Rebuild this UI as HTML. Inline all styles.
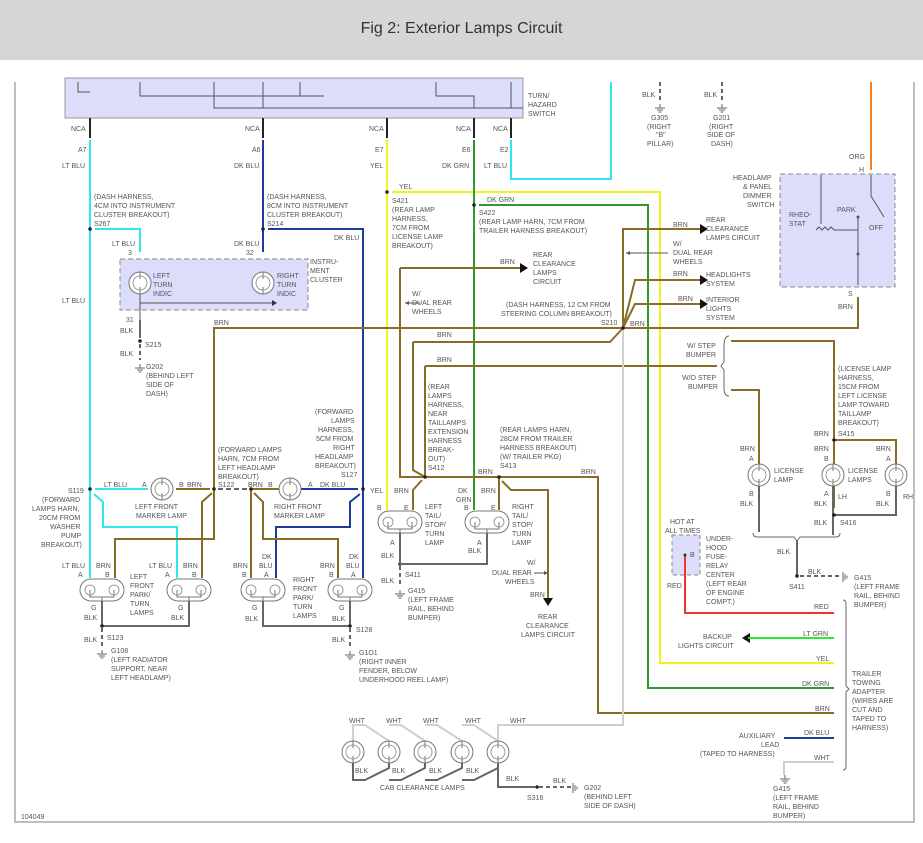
<!DOCTYPE html>
<html><head><meta charset="utf-8"><style>
html,body{margin:0;padding:0;background:#fff;}
body{width:923px;height:843px;overflow:hidden;}
.hdr{position:absolute;left:0;top:0;width:923px;height:60px;background:#d6d6d6;}
.hdr div{text-align:center;font:16px "Liberation Sans",sans-serif;color:#333;line-height:58px;}
svg{position:absolute;left:0;top:0;}
text{font-family:"Liberation Sans",sans-serif;font-size:7px;fill:#555;}
.w{fill:none;stroke-width:2;}
.k{stroke:#666;} .c{stroke:#2ee8ee;} .b{stroke:#1c3c9c;} .y{stroke:#f3f31c;} .g{stroke:#2e9a2e;} .n{stroke:#8a6d25;} .r{stroke:#f03434;} .lg{stroke:#33e433;} .o{stroke:#f08020;} .wh{stroke:#cfcfcf;}
.d{stroke-dasharray:4,3;}
.lamp{fill:#fff;stroke:#777;stroke-width:1;}
</style></head><body>
<div class="hdr"><div>Fig 2: Exterior Lamps Circuit</div></div>
<svg width="923" height="843" viewBox="0 0 923 843">
<defs>
<g id="gnd"><line x1="0" y1="0" x2="0" y2="4" stroke="#666" stroke-width="1"/><line x1="-5" y1="4" x2="5" y2="4" stroke="#666"/><line x1="-3" y1="6" x2="3" y2="6" stroke="#666"/><line x1="-1.5" y1="8" x2="1.5" y2="8" stroke="#666"/></g>
<g id="gndh"><line x1="0" y1="-5" x2="0" y2="5" stroke="#666"/><line x1="2" y1="-3" x2="2" y2="3" stroke="#666"/><line x1="4" y1="-1.5" x2="4" y2="1.5" stroke="#666"/></g>
<g id="bulb"><circle r="11" class="lamp"/><circle r="7" fill="none" stroke="#888" stroke-width="0.8"/><path d="M0,-11 V-4 M0,4 V11" stroke="#777"/></g>
<g id="dbl"><rect x="-22" y="-11" width="44" height="22" rx="11" class="lamp"/><circle cx="-12" cy="0" r="5" fill="none" stroke="#888" stroke-width="0.8"/><circle cx="12" cy="0" r="5" fill="none" stroke="#888" stroke-width="0.8"/><path d="M-12,0 V7 H12 V0 M0,7 V11" stroke="#777" fill="none"/></g>
</defs>
<!-- frame -->
<path d="M15,82 V822 H914 V82" fill="none" stroke="#aaa" stroke-width="1.5"/>
<!-- turn/hazard switch -->
<rect x="65" y="78" width="458" height="40" fill="#dcdcfb" stroke="#999"/>
<path d="M78,82 V92 H90 M140,82 V96 H324 M214,82 V108 H523 M300,82 V96 M263,82 V108 M436,82 V96 H474 V108 M511,82 V108" fill="none" stroke="#555" stroke-width="1"/>
<text x="528" y="98">TURN/</text><text x="528" y="107">HAZARD</text><text x="528" y="116">SWITCH</text>
<!-- NCA pins -->
<g stroke="#222" stroke-width="2"><line x1="90" y1="118" x2="90" y2="138"/><line x1="263" y1="118" x2="263" y2="138"/><line x1="387" y1="118" x2="387" y2="138"/><line x1="474" y1="118" x2="474" y2="138"/><line x1="511" y1="118" x2="511" y2="138"/></g>
<text x="71" y="131">NCA</text><text x="245" y="131">NCA</text><text x="369" y="131">NCA</text><text x="456" y="131">NCA</text><text x="493" y="131">NCA</text>
<text x="78" y="152">A7</text><text x="252" y="152">A6</text><text x="375" y="152">E7</text><text x="462" y="152">E6</text><text x="500" y="152">E2</text>
<text x="62" y="168">LT BLU</text><text x="234" y="168">DK BLU</text><text x="370" y="168">YEL</text><text x="442" y="168">DK GRN</text><text x="484" y="168">LT BLU</text>
<!-- cyan -->
<path class="w c" d="M90,140 V578"/><path class="w c" d="M95,229 H140 V252"/><path class="w c" d="M511,140 V179 H611 V82"/>
<path class="w c" d="M95,489 H148"/><path class="w c" d="M94,494 L103,502 V527 H177 V578"/>
<!-- dk blu -->
<path class="w b" d="M263,140 V252"/><path class="w b" d="M268,229 H363 V578"/>
<path class="w b" d="M300,489 H358"/><path class="w b" d="M360,494 L350,502 V527 H276 V578"/>
<!-- yel -->
<path class="w y" d="M387,140 V510"/><path class="w y" d="M392,192 H660 V663 H834"/>
<!-- dk grn -->
<path class="w g" d="M474,140 V510"/><path class="w g" d="M479,205 H648 V688 H834"/>
<!-- orange -->
<path class="w o" d="M871,82 V170"/>
<!-- brn -->
<path class="w n" d="M214,489 V328 H858 V297"/>
<path class="w n" d="M176,489 H210"/><path class="w n" d="M212,493 L202,502 V578"/><path class="w n" d="M214,489 V539 H115 V578"/>
<path class="w k" d="M218,489 H249" stroke="#ccc" stroke-dasharray="5,3"/>
<path class="w n" d="M251,489 H280"/><path class="w n" d="M251,489 V578"/><path class="w n" d="M254,493 L263,502 V539 H338 V578"/>
<path class="w n" d="M400,268 H520"/><path class="w n" d="M400,268 V477 H499"/><path class="w n" d="M413,342 V470 L425,477"/><path class="w n" d="M413,342 H610 L623,328"/>
<path class="w n" d="M425,366 V477"/><path class="w n" d="M425,366 H717"/>
<path class="w n" d="M422,480 L413,490 V510"/>
<path class="w n" d="M499,477 V510"/><path class="w n" d="M499,477 H598 V713 H834"/><path class="w n" d="M502,481 L511,490 H548 V598"/>
<path class="w n" d="M623,328 V229 H700"/><path class="w n" d="M623,328 L635,280 H700"/><path class="w n" d="M623,328 L635,304 H700"/>
<path class="w n" d="M731,341 H834 V508"/><path class="w n" d="M731,390 H759 V464"/><path class="w n" d="M834,440 H896 V464"/>
<!-- wht -->
<path class="w wh" d="M623,330 V725 H498 V741"/>
<!-- arrows -->
<g fill="#111"><path d="M520,263 l8,5 -8,5z"/><path d="M700,224 l8,5 -8,5z"/><path d="M700,275 l8,5 -8,5z"/><path d="M700,299 l8,5 -8,5z"/><path d="M543,598 l5,8 5,-8z"/><path d="M750,633 l-8,5 8,5z"/></g>
<path d="M405,303 H420 M626,253 H668" stroke="#555" stroke-width="1"/><path d="M405,303 l4,-2 v4z M626,253 l4,-2 v4z M548,573 l-4,-2 v4z" fill="#555"/><path d="M534,573 H548" stroke="#555"/>
<!-- instrument cluster -->
<rect x="120" y="259" width="188" height="51" fill="#dcdcfb" stroke="#888" stroke-dasharray="5,3"/>
<use href="#bulb" x="140" y="283"/><use href="#bulb" x="263" y="283"/>
<path d="M140,294 V320 M140,303 H272" stroke="#555" fill="none"/><path d="M272,300 l5,3 -5,3z" fill="#333"/>
<path class="w k" d="M140,320 V338"/><path class="w k d" d="M140,344 V360" stroke-width="1.5"/><use href="#gnd" x="140" y="364"/>
<text x="153" y="278">LEFT</text><text x="153" y="287">TURN</text><text x="153" y="296">INDIC</text>
<text x="277" y="278">RIGHT</text><text x="277" y="287">TURN</text><text x="277" y="296">INDIC</text>
<text x="310" y="264">INSTRU-</text><text x="310" y="273">MENT</text><text x="310" y="282">CLUSTER</text>
<text x="112" y="246">LT BLU</text><text x="128" y="255">3</text><text x="234" y="246">DK BLU</text><text x="246" y="255">32</text>
<text x="126" y="322">31</text><text x="120" y="333">BLK</text><text x="120" y="356">BLK</text><text x="145" y="347">S215</text>
<text x="146" y="369">G202</text><text x="146" y="378">(BEHIND LEFT</text><text x="146" y="387">SIDE OF</text><text x="146" y="396">DASH)</text>
<text x="62" y="303">LT BLU</text>
<text x="94" y="199">(DASH HARNESS,</text><text x="94" y="208">4CM INTO INSTRUMENT</text><text x="94" y="217">CLUSTER BREAKOUT)</text><text x="94" y="226">S267</text>
<text x="267" y="199">(DASH HARNESS,</text><text x="267" y="208">8CM INTO INSTRUMENT</text><text x="267" y="217">CLUSTER BREAKOUT)</text><text x="267" y="226">S214</text>
<text x="334" y="240">DK BLU</text>
<text x="399" y="189">YEL</text><text x="392" y="203">S421</text><text x="392" y="212">(REAR LAMP</text><text x="392" y="221">HARNESS,</text><text x="392" y="230">7CM FROM</text><text x="392" y="239">LICENSE LAMP</text><text x="392" y="248">BREAKOUT)</text>
<text x="487" y="202">DK GRN</text><text x="479" y="215">S422</text><text x="479" y="224">(REAR LAMP HARN, 7CM FROM</text><text x="479" y="233">TRAILER HARNESS BREAKOUT)</text>
<text x="500" y="264">BRN</text><text x="533" y="257">REAR</text><text x="533" y="266">CLEARANCE</text><text x="533" y="275">LAMPS</text><text x="533" y="284">CIRCUIT</text>
<text x="412" y="296">W/</text><text x="412" y="305">DUAL REAR</text><text x="412" y="314">WHEELS</text>
<text x="214" y="325">BRN</text><text x="437" y="337">BRN</text><text x="437" y="362">BRN</text>
<text x="673" y="227">BRN</text><text x="706" y="222">REAR</text><text x="706" y="231">CLEARANCE</text><text x="706" y="240">LAMPS CIRCUIT</text>
<text x="673" y="246">W/</text><text x="673" y="255">DUAL REAR</text><text x="673" y="264">WHEELS</text>
<text x="673" y="276">BRN</text><text x="706" y="277">HEADLIGHTS</text><text x="706" y="286">SYSTEM</text>
<text x="678" y="301">BRN</text><text x="706" y="302">INTERIOR</text><text x="706" y="311">LIGHTS</text><text x="706" y="320">SYSTEM</text>
<text x="506" y="307">(DASH HARNESS, 12 CM FROM</text><text x="501" y="316">STEERING COLUMN BREAKOUT)</text><text x="601" y="325">S210</text><text x="630" y="326">BRN</text>
<!-- top grounds -->
<path class="w k d" d="M660,82 V100 M722,82 V100" stroke-width="1.5"/><use href="#gnd" x="660" y="104"/><use href="#gnd" x="722" y="104"/>
<text x="642" y="97">BLK</text><text x="704" y="97">BLK</text>
<text x="651" y="120">G305</text><text x="647" y="129">(RIGHT</text><text x="656" y="137">"B"</text><text x="647" y="146">PILLAR)</text>
<text x="713" y="120">G201</text><text x="709" y="129">(RIGHT</text><text x="707" y="137">SIDE OF</text><text x="711" y="146">DASH)</text>
<!-- dimmer -->
<rect x="780" y="174" width="115" height="113" fill="#dcdcfb" stroke="#888" stroke-dasharray="5,3"/>
<path d="M821,175 V224 M816,230 l3,-3 3,3 3,-3 3,3 3,-3 3,3 H858 M858,217 V285 M871,175 V196 L884,217" fill="none" stroke="#555" stroke-width="1"/>
<circle cx="858" cy="217" r="1.5" fill="#555"/><circle cx="858" cy="254" r="1.5" fill="#555"/>
<text x="849" y="159">ORG</text><text x="859" y="172">H</text>
<text x="733" y="180">HEADLAMP</text><text x="743" y="189">&amp; PANEL</text><text x="743" y="198">DIMMER</text><text x="747" y="207">SWITCH</text>
<text x="789" y="217">RHEO-</text><text x="789" y="226">STAT</text><text x="837" y="212">PARK</text><text x="869" y="230">OFF</text>
<text x="848" y="296">S</text><text x="838" y="309">BRN</text>
<!-- step bumper bracket -->
<path d="M729,336 Q724,336 724,346 V362 L721,366 L724,370 V388 Q724,396 729,396" fill="none" stroke="#666"/>
<text x="687" y="348">W/ STEP</text><text x="686" y="357">BUMPER</text><text x="682" y="380">W/O STEP</text><text x="688" y="389">BUMPER</text>
<text x="838" y="371">(LICENSE LAMP</text><text x="838" y="380">HARNESS,</text><text x="838" y="389">15CM FROM</text><text x="838" y="398">LEFT LICENSE</text><text x="838" y="407">LAMP TOWARD</text><text x="838" y="416">TAILLAMP</text><text x="838" y="425">BREAKOUT)</text>
<text x="814" y="436">BRN</text><text x="838" y="436">S415</text><text x="740" y="451">BRN</text><text x="814" y="451">BRN</text><text x="876" y="451">BRN</text>
<text x="749" y="461">A</text><text x="824" y="461">B</text><text x="886" y="461">A</text>
<use href="#bulb" x="759" y="475"/><use href="#bulb" x="833" y="475"/><use href="#bulb" x="896" y="475"/>
<text x="774" y="473">LICENSE</text><text x="774" y="482">LAMP</text><text x="848" y="473">LICENSE</text><text x="848" y="482">LAMPS</text>
<text x="749" y="496">B</text><text x="824" y="496">A</text><text x="838" y="499">LH</text><text x="886" y="496">B</text><text x="903" y="499">RH</text>
<text x="740" y="506">BLK</text><text x="814" y="506">BLK</text><text x="876" y="506">BLK</text>
<path class="w k" d="M759,486 V532 M833,486 V535 M896,486 V515 H834"/>
<path d="M753,533 Q753,537 757,537 H794 L797,541 L800,537 H836 Q840,537 840,533" fill="none" stroke="#666"/>
<path class="w k" d="M797,541 V576"/><path class="w k d" d="M800,576 H840" stroke-width="1.5"/><use href="#gndh" x="843" y="577"/>
<text x="814" y="525">BLK</text><text x="840" y="525">S416</text><text x="777" y="554">BLK</text><text x="808" y="574">BLK</text><text x="789" y="589">S411</text>
<text x="854" y="580">G415</text><text x="854" y="589">(LEFT FRAME</text><text x="854" y="598">RAIL, BEHIND</text><text x="854" y="607">BUMPER)</text>
<!-- fuse relay -->
<rect x="672" y="535" width="28" height="40" fill="#dcdcfb" stroke="#888" stroke-dasharray="4,3"/>
<path class="w r" d="M685,555 V613 H834"/><circle cx="685" cy="555" r="1.5" fill="#333"/><text x="690" y="557">B</text>
<text x="670" y="524">HOT AT</text><text x="665" y="533">ALL TIMES</text><text x="667" y="588">RED</text>
<text x="706" y="541">UNDER-</text><text x="706" y="550">HOOD</text><text x="706" y="559">FUSE-</text><text x="706" y="568">RELAY</text><text x="706" y="577">CENTER</text><text x="706" y="586">(LEFT REAR</text><text x="706" y="595">OF ENGINE</text><text x="706" y="604">COMPT.)</text>
<text x="814" y="609">RED</text>
<path class="w lg" d="M748,638 H834"/><text x="803" y="636">LT GRN</text><text x="703" y="639">BACKUP</text><text x="678" y="648">LIGHTS CIRCUIT</text>
<text x="816" y="661">YEL</text><text x="802" y="686">DK GRN</text><text x="815" y="711">BRN</text>
<path class="w b" d="M784,738 H834"/><text x="804" y="735">DK BLU</text><text x="739" y="738">AUXILIARY</text><text x="761" y="747">LEAD</text><text x="700" y="756">(TAPED TO HARNESS)</text>
<path class="w wh" d="M784,775 V762 H834"/><text x="814" y="760">WHT</text><use href="#gnd" x="785" y="775"/>
<text x="773" y="791">G415</text><text x="773" y="800">(LEFT FRAME</text><text x="773" y="809">RAIL, BEHIND</text><text x="773" y="818">BUMPER)</text>
<path d="M843,600 Q846,600 846,604 V686 L849,689 L846,692 V766 Q846,770 843,770" fill="none" stroke="#666"/>
<text x="852" y="676">TRAILER</text><text x="852" y="685">TOWING</text><text x="852" y="694">ADAPTER</text><text x="852" y="703">(WIRES ARE</text><text x="852" y="712">CUT AND</text><text x="852" y="721">TAPED TO</text><text x="852" y="730">HARNESS)</text>
<!-- front lamps -->
<use href="#bulb" x="162" y="489"/><use href="#bulb" x="290" y="489"/>
<use href="#dbl" x="102" y="590"/><use href="#dbl" x="189" y="590"/><use href="#dbl" x="263" y="590"/><use href="#dbl" x="350" y="590"/>
<path class="w k" d="M102,601 V626 M189,601 V626 H102 M263,601 V626 H350 M350,601 V626"/>
<path class="w k d" d="M102,628 V646 M350,628 V646" stroke-width="1.5"/><use href="#gnd" x="102" y="650"/><use href="#gnd" x="350" y="651"/>
<circle cx="102" cy="626" r="1.8" fill="#222"/><circle cx="350" cy="626" r="1.8" fill="#222"/>
<g fill="#222"><circle cx="90" cy="229" r="1.8"/><circle cx="263" cy="229" r="1.8"/><circle cx="387" cy="192" r="1.8"/><circle cx="474" cy="205" r="1.8"/><circle cx="90" cy="489" r="1.8"/><circle cx="214" cy="489" r="1.8"/><circle cx="251" cy="489" r="1.8"/><circle cx="363" cy="489" r="1.8"/><circle cx="425" cy="477" r="1.8"/><circle cx="499" cy="477" r="1.8"/><circle cx="623" cy="328" r="1.8"/><circle cx="140" cy="341" r="1.8"/><circle cx="400" cy="564" r="1.8"/><circle cx="834" cy="440" r="1.8"/><circle cx="834" cy="515" r="1.8"/><circle cx="797" cy="576" r="1.8"/><circle cx="537" cy="787" r="1.8"/></g>
<text x="104" y="487">LT BLU</text><text x="142" y="487">A</text><text x="179" y="487">B</text><text x="187" y="487">BRN</text>
<text x="135" y="509">LEFT FRONT</text><text x="136" y="518">MARKER LAMP</text>
<text x="68" y="493">S119</text><text x="42" y="502">(FORWARD</text><text x="32" y="511">LAMPS HARN,</text><text x="39" y="520">20CM FROM</text><text x="50" y="529">WASHER</text><text x="61" y="538">PUMP</text><text x="41" y="547">BREAKOUT)</text>
<text x="218" y="452">(FORWARD LAMPS</text><text x="218" y="461">HARN, 7CM FROM</text><text x="218" y="470">LEFT HEADLAMP</text><text x="218" y="479">BREAKOUT)</text><text x="218" y="487">S122</text>
<text x="315" y="414">(FORWARD</text><text x="331" y="423">LAMPS</text><text x="318" y="432">HARNESS,</text><text x="316" y="441">5CM FROM</text><text x="333" y="450">RIGHT</text><text x="315" y="459">HEADLAMP</text><text x="315" y="468">BREAKOUT)</text><text x="341" y="477">S127</text>
<text x="248" y="487">BRN</text><text x="268" y="487">B</text><text x="308" y="487">A</text><text x="320" y="487">DK BLU</text><text x="370" y="493">YEL</text>
<text x="274" y="509">RIGHT FRONT</text><text x="274" y="518">MARKER LAMP</text>
<text x="62" y="568">LT BLU</text><text x="96" y="568">BRN</text><text x="149" y="568">LT BLU</text><text x="183" y="568">BRN</text>
<text x="233" y="568">BRN</text><text x="262" y="559">DK</text><text x="259" y="568">BLU</text><text x="320" y="568">BRN</text><text x="349" y="559">DK</text><text x="346" y="568">BLU</text>
<text x="78" y="577">A</text><text x="105" y="577">B</text><text x="165" y="577">A</text><text x="192" y="577">B</text><text x="242" y="577">B</text><text x="264" y="577">A</text><text x="329" y="577">B</text><text x="351" y="577">A</text>
<text x="130" y="579">LEFT</text><text x="130" y="588">FRONT</text><text x="130" y="597">PARK/</text><text x="130" y="606">TURN</text><text x="130" y="615">LAMPS</text>
<text x="293" y="582">RIGHT</text><text x="293" y="591">FRONT</text><text x="293" y="600">PARK/</text><text x="293" y="609">TURN</text><text x="293" y="618">LAMPS</text>
<text x="91" y="610">G</text><text x="84" y="620">BLK</text><text x="178" y="610">G</text><text x="171" y="620">BLK</text><text x="252" y="610">G</text><text x="245" y="621">BLK</text><text x="339" y="610">G</text><text x="332" y="621">BLK</text>
<text x="84" y="642">BLK</text><text x="107" y="640">S123</text><text x="332" y="642">BLK</text><text x="356" y="632">S128</text>
<text x="111" y="653">G108</text><text x="111" y="662">(LEFT RADIATOR</text><text x="111" y="671">SUPPORT, NEAR</text><text x="111" y="680">LEFT HEADLAMP)</text>
<text x="359" y="655">G1O1</text><text x="359" y="664">(RIGHT INNER</text><text x="359" y="673">FENDER, BELOW</text><text x="359" y="682">UNDERHOOD REEL LAMP)</text>
<!-- tail lamps -->
<use href="#dbl" x="400" y="522"/><use href="#dbl" x="487" y="522"/>
<path class="w k" d="M400,533 V564 M487,533 V564 H400"/><path class="w k d" d="M400,566 V586" stroke-width="1.5"/><use href="#gnd" x="400" y="590"/>
<text x="428" y="389">(REAR</text><text x="428" y="398">LAMPS</text><text x="428" y="407">HARNESS,</text><text x="428" y="416">NEAR</text><text x="428" y="425">TAILLAMPS</text><text x="428" y="434">EXTENSION</text><text x="428" y="443">HARNESS</text><text x="428" y="452">BREAK-</text><text x="428" y="461">OUT)</text><text x="428" y="470">S412</text>
<text x="500" y="432">(REAR LAMPS HARN,</text><text x="500" y="441">28CM FROM TRAILER</text><text x="500" y="450">HARNESS BREAKOUT)</text><text x="500" y="459">(W/ TRAILER PKG)</text><text x="500" y="468">S413</text>
<text x="478" y="474">BRN</text><text x="581" y="474">BRN</text>
<text x="394" y="493">BRN</text><text x="458" y="493">DK</text><text x="456" y="502">GRN</text><text x="481" y="493">BRN</text>
<text x="377" y="510">B</text><text x="404" y="510">E</text><text x="464" y="510">B</text><text x="491" y="510">E</text>
<text x="425" y="509">LEFT</text><text x="425" y="518">TAIL/</text><text x="425" y="527">STOP/</text><text x="425" y="536">TURN</text><text x="425" y="545">LAMP</text>
<text x="512" y="509">RIGHT</text><text x="512" y="518">TAIL/</text><text x="512" y="527">STOP/</text><text x="512" y="536">TURN</text><text x="512" y="545">LAMP</text>
<text x="390" y="545">A</text><text x="477" y="545">A</text><text x="381" y="558">BLK</text><text x="468" y="553">BLK</text><text x="381" y="583">BLK</text><text x="405" y="577">S411</text>
<text x="408" y="593">G415</text><text x="408" y="602">(LEFT FRAME</text><text x="408" y="611">RAIL, BEHIND</text><text x="408" y="620">BUMPER)</text>
<text x="527" y="565">W/</text><text x="492" y="575">DUAL REAR</text><text x="505" y="584">WHEELS</text><text x="530" y="597">BRN</text>
<text x="538" y="619">REAR</text><text x="526" y="628">CLEARANCE</text><text x="521" y="637">LAMPS CIRCUIT</text>
<!-- cab clearance lamps -->
<path class="w wh" d="M353,741 V725 H365 L389,741 M389,725 H401 L425,741 M425,725 H437 L462,741 M462,725 H474 L498,741" stroke-width="1.2"/>
<use href="#bulb" x="353" y="752"/><use href="#bulb" x="389" y="752"/><use href="#bulb" x="425" y="752"/><use href="#bulb" x="462" y="752"/><use href="#bulb" x="498" y="752"/>
<path class="w k" d="M353,763 V780 H365 L389,768 V763 M389,780 H401 L425,768 V763 M425,780 H437 L462,768 V763 M462,780 H474 L498,768 V763 M498,763 V787 H535" stroke-width="1.5"/>
<path class="w k d" d="M539,787 H571" stroke-width="1.5"/><use href="#gndh" x="573" y="788"/>
<text x="349" y="723">WHT</text><text x="386" y="723">WHT</text><text x="423" y="723">WHT</text><text x="465" y="723">WHT</text><text x="510" y="723">WHT</text>
<text x="355" y="773">BLK</text><text x="392" y="773">BLK</text><text x="429" y="773">BLK</text><text x="466" y="773">BLK</text><text x="506" y="781">BLK</text><text x="553" y="783">BLK</text>
<text x="380" y="790">CAB CLEARANCE LAMPS</text><text x="527" y="800">S316</text>
<text x="584" y="790">G202</text><text x="584" y="799">(BEHIND LEFT</text><text x="584" y="808">SIDE OF DASH)</text>
<text x="21" y="819">104049</text>
</svg>
</body></html>
